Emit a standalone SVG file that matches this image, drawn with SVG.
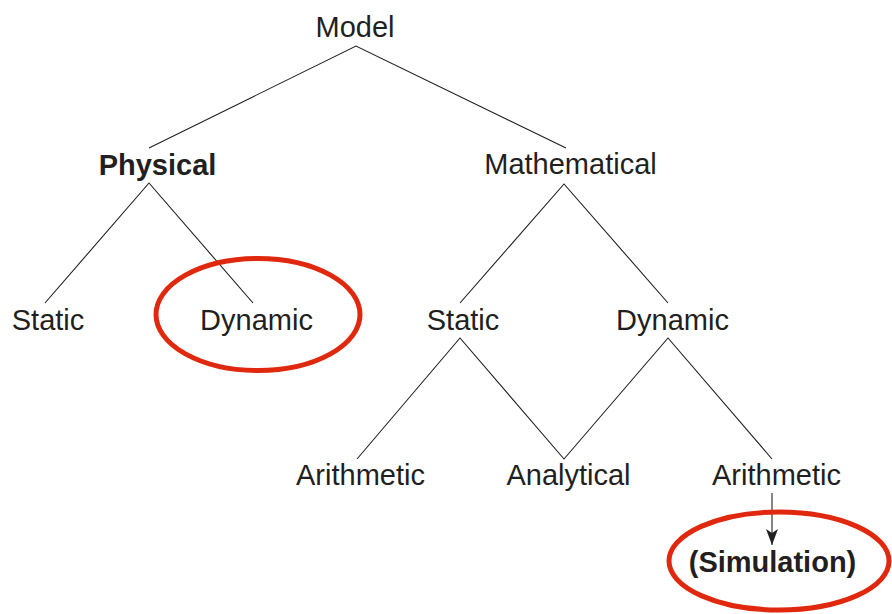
<svg xmlns="http://www.w3.org/2000/svg" width="892" height="614" viewBox="0 0 892 614">
<defs>
<style>
text{font-family:"Liberation Sans",Arial,sans-serif;font-size:29px;fill:#231f20;text-anchor:middle}
.b{font-weight:bold}
.c line,.c polyline{stroke:#231f20;stroke-width:1.1;fill:none}
.hl{fill:none;stroke:#e0280e;stroke-width:5}
</style>
<marker id="ah" viewBox="0 0 16 12" refX="16" refY="6" markerWidth="16" markerHeight="12" markerUnits="userSpaceOnUse" orient="auto">
<path d="M0,0 L16,6 L0,12 L4,6 Z" fill="#231f20"/>
</marker>
</defs>
<rect width="892" height="614" fill="#fff"/>
<g class="c" id="connectors">
<polyline points="149,148 356,46 566,148"/>
<polyline points="45,303 149,183 253,303"/>
<polyline points="460,303 564,184 668,303"/>
<polyline points="357,459 460,338 564,459 668,338 772,459"/>
<line x1="772" y1="493" x2="772" y2="545" marker-end="url(#ah)"/>
</g>
<g id="model"><text x="355" y="37">Model</text></g>
<g id="physical"><text class="b" x="157.5" y="175">Physical</text></g>
<g id="mathematical"><text x="570.5" y="174">Mathematical</text></g>
<g id="physical-static"><text x="48" y="330">Static</text></g>
<g id="physical-dynamic"><text x="256.5" y="330">Dynamic</text><ellipse class="hl" cx="258" cy="314.5" rx="102" ry="56"/></g>
<g id="math-static"><text x="463" y="330">Static</text></g>
<g id="math-dynamic"><text x="672.5" y="330">Dynamic</text></g>
<g id="static-arithmetic"><text x="360.5" y="485">Arithmetic</text></g>
<g id="analytical"><text x="568.5" y="485">Analytical</text></g>
<g id="dynamic-arithmetic"><text x="776.5" y="485">Arithmetic</text></g>
<g id="simulation"><text class="b" x="772.5" y="572">(Simulation)</text><ellipse class="hl" cx="779" cy="561" rx="110" ry="49"/></g>
</svg>
